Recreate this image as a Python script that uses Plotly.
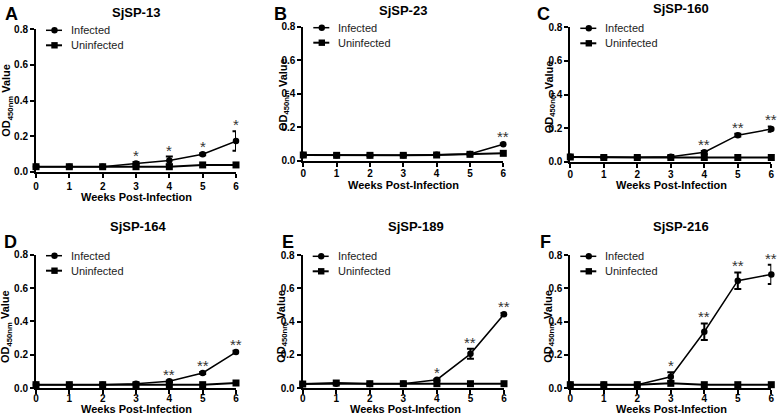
import plotly.graph_objects as go

W, H = 778, 418
FONT = "Arial, Liberation Sans, sans-serif"

weeks = [0, 1, 2, 3, 4, 5, 6]
panel_letters = ["A", "B", "C", "D", "E", "F"]
antigens = ["SjSP-13", "SjSP-23", "SjSP-160", "SjSP-164", "SjSP-189", "SjSP-216"]
y_ticks = [0.0, 0.2, 0.4, 0.6, 0.8]
series_names = ["Infected", "Uninfected"]

inf_A = [0.028, 0.028, 0.028, 0.046, 0.063, 0.098, 0.172]
err_A = [0.003, 0.003, 0.003, 0.008, 0.022, 0.006, 0.055]
uni_A = [0.028, 0.028, 0.028, 0.028, 0.028, 0.038, 0.038]
sig_A = ["", "", "", "*", "*", "*", "*"]

inf_B = [0.034, 0.032, 0.032, 0.032, 0.036, 0.040, 0.098]
err_B = [0.003, 0.003, 0.003, 0.003, 0.003, 0.003, 0.005]
uni_B = [0.034, 0.032, 0.032, 0.032, 0.034, 0.038, 0.044]
sig_B = ["", "", "", "", "", "", "**"]

inf_C = [0.030, 0.026, 0.026, 0.030, 0.056, 0.158, 0.194]
err_C = [0.003, 0.003, 0.003, 0.004, 0.008, 0.008, 0.016]
uni_C = [0.028, 0.025, 0.025, 0.025, 0.025, 0.025, 0.025]
sig_C = ["", "", "", "", "**", "**", "**"]

inf_D = [0.020, 0.018, 0.020, 0.026, 0.040, 0.090, 0.216]
err_D = [0.002, 0.002, 0.002, 0.003, 0.005, 0.006, 0.008]
uni_D = [0.020, 0.020, 0.020, 0.020, 0.020, 0.020, 0.030]
sig_D = ["", "", "", "", "**", "**", "**"]

inf_E = [0.024, 0.026, 0.024, 0.026, 0.050, 0.206, 0.444]
err_E = [0.002, 0.002, 0.002, 0.003, 0.005, 0.030, 0.008]
uni_E = [0.024, 0.030, 0.026, 0.026, 0.026, 0.026, 0.026]
sig_E = ["", "", "", "", "*", "**", "**"]

inf_F = [0.020, 0.020, 0.020, 0.068, 0.339, 0.647, 0.685]
err_F = [0.002, 0.002, 0.002, 0.027, 0.050, 0.050, 0.058]
uni_F = [0.020, 0.020, 0.020, 0.028, 0.020, 0.020, 0.020]
sig_F = ["", "", "", "*", "**", "**", "**"]

infected = [inf_A, inf_B, inf_C, inf_D, inf_E, inf_F]
errors = [err_A, err_B, err_C, err_D, err_E, err_F]
uninfected = [uni_A, uni_B, uni_C, uni_D, uni_E, uni_F]
signif = [sig_A, sig_B, sig_C, sig_D, sig_E, sig_F]

# layout in pixels: (left, right, top, bottom) of each plot area
boxes = [
    (36, 236, 29.3, 171.7),
    (303.3, 503.3, 26.7, 160.7),
    (570.3, 771.3, 27.3, 161.7),
    (36, 236, 254.7, 388),
    (302.7, 504, 255.3, 388),
    (570.3, 771.3, 255.3, 388),
]
xlabel_standoff = [0, -2, -2, -4, -4, -4]
title_pos = [(136, 12.3), (403.3, 10), (681.3, 9), (138.3, 226.3), (415.7, 226.3), (681.3, 226.3)]
letter_pos = [(3.3, 14.5), (271.7, 14.5), (534.7, 14.5), (1.7, 242.5), (280, 242.5), (538, 242.5)]
ytitle_pos = [(7, 100.7), (284, 95), (549.5, 96.7), (6.7, 326.3), (282.5, 326.3), (549.5, 326.3)]
xtitle_pos = [(136, 197), (403.3, 185), (671.3, 185), (136, 409), (405, 409), (671.3, 409)]


def px(xp):
    return xp / W


def py(yp):
    return 1 - yp / H


fig = go.Figure()
annotations = []
shapes = []

for i in range(6):
    n = "" if i == 0 else str(i + 1)
    xa, ya = "x" + n, "y" + n
    left, right, top, bottom = boxes[i]

    fig.add_trace(go.Scatter(
        x=weeks, y=uninfected[i], xaxis=xa, yaxis=ya, mode="lines+markers",
        line=dict(color="black", width=2),
        marker=dict(symbol="square", size=7, color="black"),
        cliponaxis=False, showlegend=False, name=series_names[1]))
    fig.add_trace(go.Scatter(
        x=weeks, y=infected[i], xaxis=xa, yaxis=ya, mode="lines+markers",
        line=dict(color="black", width=1.5),
        marker=dict(symbol="circle", size=6.5, color="black"),
        error_y=dict(type="data", array=errors[i], visible=True,
                     color="black", thickness=2, width=3.5),
        cliponaxis=False, showlegend=False, name=series_names[0]))

    fig.layout["xaxis" + n] = dict(
        domain=[px(left), px(right)], anchor=ya, range=[0, 6], automargin=False,
        tickmode="array", tickvals=weeks, ticktext=[str(w) for w in weeks],
        showline=True, linecolor="black", linewidth=2, ticks="outside",
        ticklen=4, tickwidth=1.5, tickcolor="black", showgrid=False,
        ticklabelstandoff=xlabel_standoff[i],
        zeroline=False, tickfont=dict(family=FONT, size=10, color="black", weight="bold"))
    fig.layout["yaxis" + n] = dict(
        domain=[py(bottom), py(top)], anchor=xa, range=[0, 0.8], automargin=False,
        tickmode="array", tickvals=y_ticks, ticktext=["%.1f" % v for v in y_ticks],
        showline=True, linecolor="black", linewidth=2, ticks="outside",
        ticklen=4, tickwidth=1.5, tickcolor="black", showgrid=False,
        zeroline=False, tickfont=dict(family=FONT, size=10, color="black", weight="bold"))

    # significance stars
    for w, v, e, s in zip(weeks, infected[i], errors[i], signif[i]):
        if s:
            annotations.append(dict(
                x=w, y=v + e, xref=xa, yref=ya, text=s, showarrow=False,
                yanchor="bottom", yshift=-4, xanchor="center",
                font=dict(family=FONT, size=15, color="#333333")))

    # title, letter, axis titles
    tx, ty = title_pos[i]
    annotations.append(dict(x=px(tx), y=py(ty), xref="paper", yref="paper",
                            text="<b>%s</b>" % antigens[i], showarrow=False,
                            xanchor="center", yanchor="middle",
                            font=dict(family=FONT, size=13, color="black")))
    lx, ly = letter_pos[i]
    annotations.append(dict(x=px(lx), y=py(ly), xref="paper", yref="paper",
                            text="<b>%s</b>" % panel_letters[i], showarrow=False,
                            xanchor="left", yanchor="middle",
                            font=dict(family=FONT, size=18, color="black")))
    yx, yy = ytitle_pos[i]
    annotations.append(dict(x=px(yx), y=py(yy), xref="paper", yref="paper",
                            text="<b>OD<sub>450nm</sub> Value</b>", showarrow=False,
                            textangle=-90, xanchor="center", yanchor="middle",
                            font=dict(family=FONT, size=11, color="black")))
    xx, xy = xtitle_pos[i]
    annotations.append(dict(x=px(xx), y=py(xy), xref="paper", yref="paper",
                            text="<b>Weeks Post-Infection</b>", showarrow=False,
                            xanchor="center", yanchor="middle",
                            font=dict(family=FONT, size=11, color="black")))

    # legend
    for r, (name, sym) in enumerate(zip(series_names, ["circle", "rect"])):
        rowy = py(top + 1 + 15 * r)
        shapes.append(dict(type="line", xref="paper", yref="paper",
                           x0=px(left + 10), x1=px(left + 26), y0=rowy, y1=rowy,
                           line=dict(color="black", width=2 if r else 1.5)))
        shapes.append(dict(type=sym, xref="paper", yref="paper",
                           xsizemode="pixel", ysizemode="pixel",
                           xanchor=px(left + 18.5), yanchor=rowy,
                           x0=-3.2, x1=3.2, y0=-3.2, y1=3.2,
                           fillcolor="black", line=dict(color="black", width=0)))
        annotations.append(dict(x=px(left + 33), y=rowy, xref="paper", yref="paper",
                                text=name, showarrow=False, xanchor="left",
                                yanchor="middle",
                                font=dict(family=FONT, size=11, color="#222222")))

fig.update_layout(
    template="none",
    width=W, height=H, margin=dict(l=0, r=0, t=0, b=0, autoexpand=False),
    paper_bgcolor="white", plot_bgcolor="white",
    annotations=annotations, shapes=shapes, showlegend=False,
)

fig.write_html(
    "out.html",
    config={"displayModeBar": False},
    post_script="document.body.style.margin='0';document.body.style.overflow='hidden';",
)
